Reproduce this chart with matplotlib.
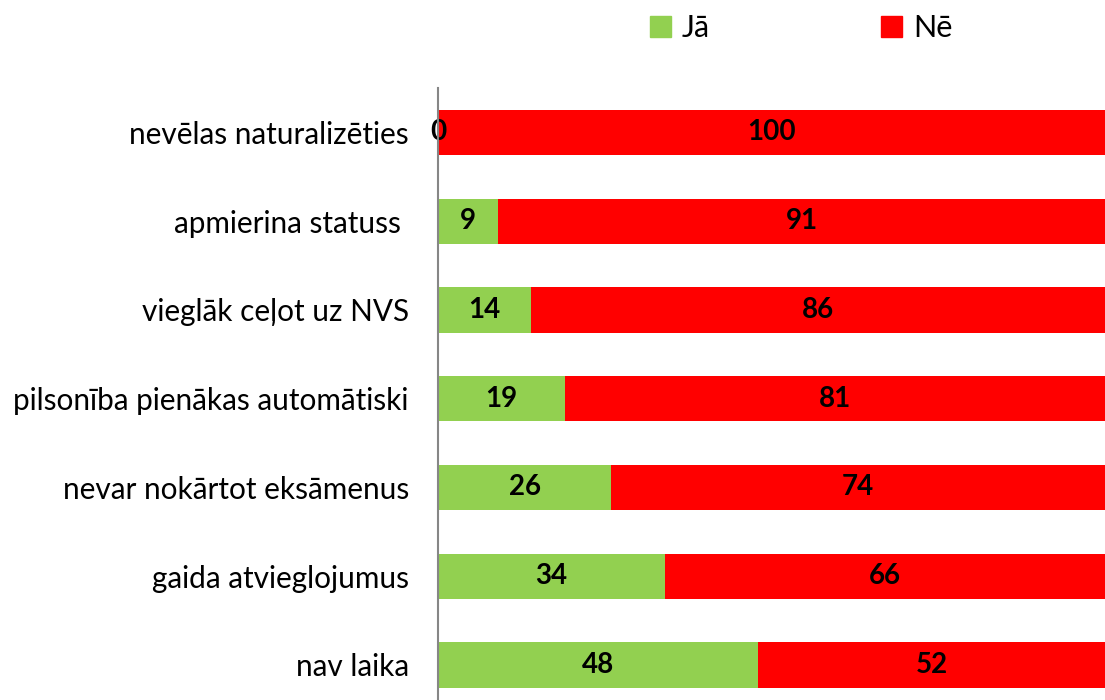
import matplotlib
matplotlib.use("Agg")
from matplotlib import pyplot as plt
from matplotlib.patches import Patch

categories = ["nav laika", "gaida atvieglojumus", "nevar nokārtot eksāmenus",
              "pilsonība pienākas automātiski", "vieglāk ceļot uz NVS",
              "apmierina statuss ", "nevēlas naturalizēties"]
ja = [48, 34, 26, 19, 14, 9, 0]
ne = [52, 66, 74, 81, 86, 91, 100]
series_names = ["Jā", "Nē"]

green = "#92d050"
red = "#ff0000"

plt.rcParams['font.family'] = ['Lato', 'DejaVu Sans']

fig = plt.figure(figsize=(11.05, 7), dpi=100)
ax = fig.add_axes([438 / 1105, 0, 1 - 438 / 1105, 1 - 88 / 700])

y = list(range(len(categories)))
b1 = ax.barh(y, ja, height=0.51, color=green)
b2 = ax.barh(y, ne, left=ja, height=0.51, color=red)
ax.bar_label(b1, label_type='center', fontsize=20, fontweight='bold')
ax.bar_label(b2, label_type='center', fontsize=20, fontweight='bold')

ax.set_xlim(0, 100)
ax.set_ylim(-0.395, 6.5)
ax.set_yticks(y)
ax.set_yticklabels(categories, fontsize=21.4)
ax.tick_params(axis='y', length=0, pad=21)
ax.set_xticks([])
for s in ['top', 'right', 'bottom']:
    ax.spines[s].set_visible(False)
ax.spines['left'].set_color('#868686')
ax.spines['left'].set_linewidth(1.5)
ax.spines['left'].set_zorder(5)

handles = [Patch(color=green), Patch(color=red)]
fig.legend(handles, series_names, loc='center', bbox_to_anchor=(801 / 1105, 1 - 28 / 700),
           ncol=2, frameon=False, fontsize=22, handlelength=0.7, handleheight=0.7,
           handletextpad=0.35, columnspacing=5.6)

fig.savefig("out.png", dpi=100)
